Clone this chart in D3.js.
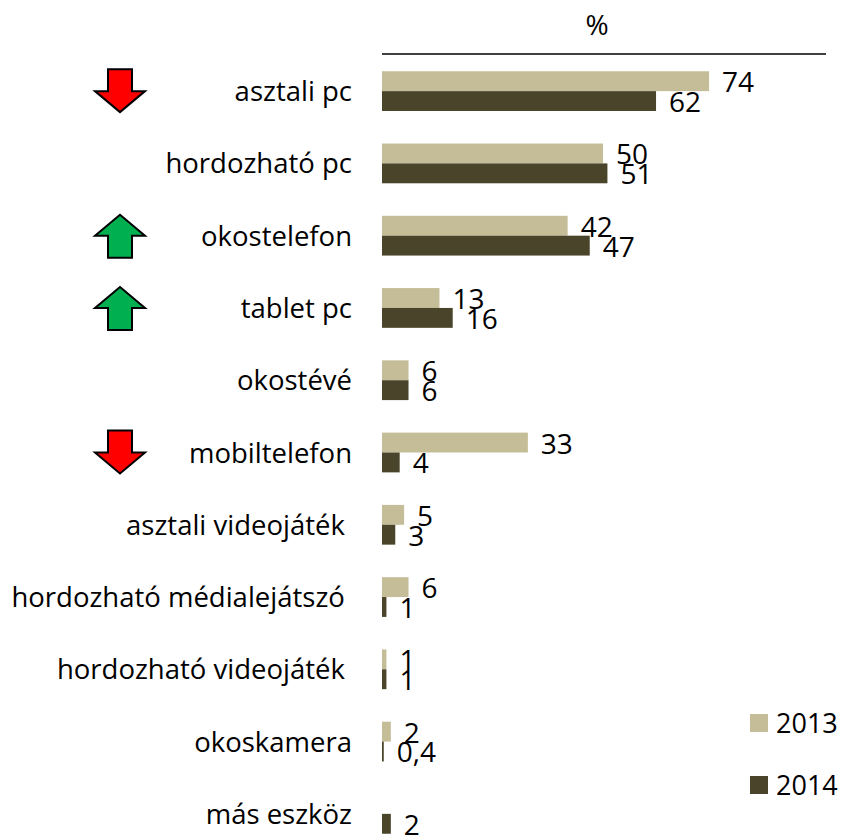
<html>
<head>
<meta charset="utf-8">
<style>
    body { margin: 0; background: #fff; }
    text { font-family: "Open Sans", "Liberation Sans", sans-serif; fill: #000; white-space: pre; }
</style>
</head>
<body>
<svg width="844" height="836"></svg>
<script src="https://d3js.org/d3.v7.min.js"></script>
<script>
    // adatok
    var categories = ["asztali pc", "hordozható pc", "okostelefon", "tablet pc", "okostévé", "mobiltelefon",
        "asztali videojáték ", "hordozható médialejátszó ", "hordozható videojáték ", "okoskamera", "más eszköz"];
    var values2013 = [74, 50, 42, 13, 6, 33, 5, 6, 1, 2, null];
    var values2014 = [62, 51, 47, 16, 6, 4, 3, 1, 1, 0.4, 2];
    var labels2013 = ["74", "50", "42", "13", "6", "33", "5", "6", "1", "2", ""];
    var labels2014 = ["62", "51", "47", "16", "6", "4", "3", "1", "1", "0,4", "2"];
    var trends = ["down", null, "up", "up", null, "down", null, null, null, null, null];
    var years = ["2013", "2014"];
    var colors = ["#C4BD97", "#4A452A"];

    var svg = d3.select("svg"),
        width = +svg.attr("width"),
        height = +svg.attr("height");

    var x = d3.scaleLinear().domain([0, 100]).range([382, 824]);
    var y = d3.scaleBand().domain(categories).range([55, 850]).paddingInner(0.45).paddingOuter(0.225);
    var sub = d3.scaleBand().domain(years).range([0, y.bandwidth()]);

    // fejléc
    svg.append("text").attr("x", 597).attr("y", 35).attr("text-anchor", "middle")
        .style("font-size", "28px").text("%");
    svg.append("line").attr("x1", 382).attr("x2", 826).attr("y1", 54).attr("y2", 54)
        .attr("stroke", "#000").attr("stroke-width", 1.5);

    var rows = svg.selectAll("g.row")
        .data(categories.map((c, i) => ({ cat: c, v: [values2013[i], values2014[i]], l: [labels2013[i], labels2014[i]], t: trends[i] })))
        .enter().append("g")
        .attr("class", "row")
        .attr("transform", d => "translate(0," + y(d.cat) + ")");

    rows.append("text")
        .attr("x", 352).attr("y", y.bandwidth() / 2 + 10)
        .attr("text-anchor", "end")
        .style("font-size", "27.5px")
        .text(d => d.cat);

    years.forEach(function(yr, k) {
        rows.filter(d => d.v[k] != null).append("rect")
            .attr("x", x(0))
            .attr("y", sub(yr))
            .attr("width", d => x(d.v[k]) - x(0))
            .attr("height", sub.bandwidth())
            .attr("fill", colors[k]);
        rows.filter(d => d.v[k] != null).append("text")
            .attr("x", d => x(d.v[k]) + 13)
            .attr("y", sub(yr) + sub.bandwidth() + 1)
            .style("font-size", "28px")
            .text(d => d.l[k]);
    });

    // nyilak
    var down = "M-12,-22 L12,-22 L12,0 L25,0 L0,21 L-25,0 L-12,0 Z";
    rows.filter(d => d.t).append("path")
        .attr("transform", d => "translate(120," + (y.bandwidth() / 2) + ")" + (d.t == "up" ? " scale(1,-1)" : ""))
        .attr("d", down)
        .attr("fill", d => d.t == "up" ? "#00B050" : "#FF0000")
        .attr("stroke", "#000")
        .attr("stroke-width", 2)
        .attr("stroke-linejoin", "miter");

    // jelmagyarázat
    var legend = svg.selectAll("g.legend").data(years).enter().append("g")
        .attr("class", "legend")
        .attr("transform", (d, i) => "translate(750," + (714 + i * 62) + ")");
    legend.append("rect").attr("width", 18).attr("height", 18).attr("fill", (d, i) => colors[i]);
    legend.append("text").attr("x", 26).attr("y", 19).style("font-size", "27px").text(d => d);
</script>
</body>
</html>
